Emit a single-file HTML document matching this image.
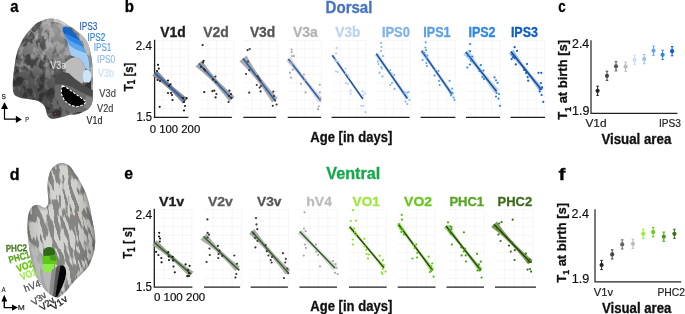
<!DOCTYPE html>
<html><head><meta charset="utf-8"><style>
html,body{margin:0;padding:0;background:#fff;}
svg{display:block;will-change:transform;}
text{font-family:"Liberation Sans", sans-serif;}
</style></head><body>
<svg width="685" height="314" viewBox="0 0 685 314">
<rect width="685" height="314" fill="#fff"/>
<defs>
<filter id="texD" x="0" y="0" width="100%" height="100%" filterUnits="userSpaceOnUse">
 <feTurbulence type="fractalNoise" baseFrequency="0.13 0.09" numOctaves="3" seed="7" result="n"/>
 <feColorMatrix in="n" type="matrix" values="0 0 0 0 0  0 0 0 0 0  0 0 0 0 0  1 0 0 0 0"/>
 <feComponentTransfer><feFuncA type="linear" slope="9" intercept="-4.3"/></feComponentTransfer>
</filter>
<filter id="texL" x="0" y="0" width="100%" height="100%" filterUnits="userSpaceOnUse">
 <feTurbulence type="fractalNoise" baseFrequency="0.12 0.1" numOctaves="3" seed="21" result="n"/>
 <feColorMatrix in="n" type="matrix" values="0 0 0 0 1  0 0 0 0 1  0 0 0 0 1  1 0 0 0 0"/>
 <feComponentTransfer><feFuncA type="linear" slope="9" intercept="-4.6"/></feComponentTransfer>
</filter>
<filter id="texS" x="0" y="0" width="100%" height="100%" filterUnits="userSpaceOnUse">
 <feTurbulence type="fractalNoise" baseFrequency="0.28 0.06" numOctaves="2" seed="3" result="n"/>
 <feColorMatrix in="n" type="matrix" values="0 0 0 0 0  0 0 0 0 0  0 0 0 0 0  1 0 0 0 0"/>
 <feComponentTransfer><feFuncA type="linear" slope="12" intercept="-5.5"/></feComponentTransfer>
</filter>
<filter id="soft" x="-20%" y="-20%" width="140%" height="140%"><feGaussianBlur stdDeviation="4"/></filter>
<filter id="soft1" x="-20%" y="-20%" width="140%" height="140%"><feGaussianBlur stdDeviation="1.2"/></filter>
<radialGradient id="gA" gradientUnits="userSpaceOnUse" cx="58" cy="32" r="62" fx="60" fy="28">
 <stop offset="0" stop-color="#a6a6a6"/><stop offset="0.35" stop-color="#8c8c8c"/><stop offset="0.7" stop-color="#707070"/><stop offset="1" stop-color="#585858"/>
</radialGradient>
<linearGradient id="gD" x1="0" y1="0" x2="1" y2="0">
 <stop offset="0" stop-color="#b4b4b2"/><stop offset="0.3" stop-color="#d4d4d0"/><stop offset="0.7" stop-color="#d0d0cc"/><stop offset="1" stop-color="#a0a09e"/>
</linearGradient>
<clipPath id="cA"><path d="M49.30 18.50C50.88 18.35 52.50 18.43 54.10 18.70C55.70 18.97 57.30 19.47 58.90 20.10C60.50 20.73 62.12 21.62 63.70 22.50C65.28 23.38 66.82 24.45 68.40 25.40C69.98 26.35 71.60 27.10 73.20 28.20C74.80 29.30 76.40 30.72 78.00 32.00C79.60 33.28 81.43 34.48 82.80 35.90C84.17 37.32 85.27 39.02 86.20 40.50C87.13 41.98 87.67 42.73 88.40 44.80C89.13 46.87 89.95 49.65 90.60 52.90C91.25 56.15 91.92 60.02 92.30 64.30C92.68 68.58 92.80 74.32 92.90 78.60C93.00 82.88 92.95 86.67 92.90 90.00C92.85 93.33 92.83 96.18 92.60 98.60C92.37 101.02 92.27 102.73 91.50 104.50C90.73 106.27 89.30 107.98 88.00 109.20C86.70 110.42 85.13 111.08 83.70 111.80C82.27 112.52 80.83 113.03 79.40 113.50C77.97 113.97 76.53 114.42 75.10 114.60C73.67 114.78 72.23 114.42 70.80 114.60C69.37 114.78 67.93 115.30 66.50 115.70C65.07 116.10 63.63 116.60 62.20 117.00C60.77 117.40 59.33 117.82 57.90 118.10C56.47 118.38 54.88 118.68 53.60 118.70C52.32 118.72 51.20 118.70 50.20 118.20C49.20 117.70 48.25 116.82 47.60 115.70C46.95 114.58 46.72 112.92 46.30 111.50C45.88 110.08 45.90 108.63 45.10 107.20C44.30 105.77 43.28 104.10 41.50 102.90C39.72 101.70 37.27 100.72 34.40 100.00C31.53 99.28 27.17 99.18 24.30 98.60C21.43 98.02 18.98 97.45 17.20 96.50C15.42 95.55 14.33 94.82 13.60 92.90C12.87 90.98 12.83 87.98 12.80 85.00C12.77 82.02 13.02 78.83 13.40 75.00C13.78 71.17 14.50 65.80 15.10 62.00C15.70 58.20 16.25 54.90 17.00 52.20C17.75 49.50 18.65 47.92 19.60 45.80C20.55 43.68 21.65 41.40 22.70 39.50C23.75 37.60 24.62 36.10 25.90 34.40C27.18 32.70 28.80 31.00 30.40 29.30C32.00 27.60 33.90 25.48 35.50 24.20C37.10 22.92 38.48 22.37 40.00 21.60C41.52 20.83 43.05 20.12 44.60 19.60C46.15 19.08 47.72 18.65 49.30 18.50Z"/></clipPath>
<clipPath id="cD"><path d="M62.00 163.10C63.78 163.15 65.92 163.78 67.50 164.60C69.08 165.42 70.28 166.55 71.50 168.00C72.72 169.45 73.67 171.58 74.80 173.30C75.93 175.02 77.25 176.60 78.30 178.30C79.35 180.00 80.10 181.58 81.10 183.50C82.10 185.42 83.35 187.68 84.30 189.80C85.25 191.92 86.05 194.08 86.80 196.20C87.55 198.32 88.22 200.37 88.80 202.50C89.38 204.63 89.67 205.80 90.30 209.00C90.93 212.20 91.93 218.20 92.60 221.70C93.27 225.20 93.87 227.28 94.30 230.00C94.73 232.72 95.08 235.50 95.20 238.00C95.32 240.50 95.23 242.52 95.00 245.00C94.77 247.48 94.38 250.48 93.80 252.90C93.22 255.32 92.33 257.37 91.50 259.50C90.67 261.63 89.85 263.90 88.80 265.70C87.75 267.50 86.48 268.82 85.20 270.30C83.92 271.78 83.05 272.62 81.10 274.60C79.15 276.58 75.83 279.65 73.50 282.20C71.17 284.75 69.02 287.77 67.10 289.90C65.18 292.03 63.43 293.78 62.00 295.00C60.57 296.22 59.55 296.77 58.50 297.20C57.45 297.63 56.78 297.88 55.70 297.60C54.62 297.32 53.28 296.37 52.00 295.50C50.72 294.63 49.25 293.48 48.00 292.40C46.75 291.32 45.55 290.27 44.50 289.00C43.45 287.73 42.73 286.30 41.70 284.80C40.67 283.30 39.37 281.70 38.30 280.00C37.23 278.30 36.15 276.60 35.30 274.60C34.45 272.60 33.83 270.33 33.20 268.00C32.57 265.67 32.03 263.10 31.50 260.60C30.97 258.10 30.43 255.55 30.00 253.00C29.57 250.45 29.25 247.88 28.90 245.30C28.55 242.72 28.13 240.05 27.90 237.50C27.67 234.95 27.55 232.63 27.50 230.00C27.45 227.37 27.45 224.28 27.60 221.70C27.75 219.12 27.97 216.53 28.40 214.50C28.83 212.47 29.43 210.92 30.20 209.50C30.97 208.08 31.95 206.80 33.00 206.00C34.05 205.20 35.33 204.77 36.50 204.70C37.67 204.63 38.82 205.12 40.00 205.60C41.18 206.08 42.50 207.40 43.60 207.60C44.70 207.80 45.82 207.57 46.60 206.80C47.38 206.03 48.02 204.47 48.30 203.00C48.58 201.53 48.42 200.00 48.30 198.00C48.18 196.00 47.73 193.42 47.60 191.00C47.47 188.58 47.37 185.75 47.50 183.50C47.63 181.25 47.98 179.42 48.40 177.50C48.82 175.58 49.27 173.67 50.00 172.00C50.73 170.33 51.67 168.78 52.80 167.50C53.93 166.22 55.27 165.03 56.80 164.30C58.33 163.57 60.22 163.05 62.00 163.10Z"/></clipPath>
</defs>
<g clip-path="url(#cA)">
<rect x="5" y="10" width="95" height="115" fill="url(#gA)"/>
<rect x="5" y="10" width="95" height="115" filter="url(#texD)" opacity="0.25"/>
<rect x="5" y="10" width="95" height="115" filter="url(#texL)" opacity="0.22"/>
<ellipse cx="54" cy="30" rx="14" ry="12" fill="#b4b4b4" opacity="0.45" filter="url(#soft)"/>
<path d="M5 74 C25 74 45 72 62 70 L70 125 L5 125Z" fill="#3c3c3c" opacity="0.3" filter="url(#soft)"/>
<path d="M60 20 C70 22 76 26 79.5 30 L79.5 39.5 L84.2 48.2 L86.3 53 L88.5 58 L89.6 66 L91.2 75 L91 85 L92 100 L97 100 L97 15 Z" fill="#bababa" opacity="0.95"/>
<rect x="75" y="15" width="25" height="100" filter="url(#texD)" opacity="0.22" clip-path="url(#cA)"/>
<path d="M54 17 C66 18 76 23 83 31 L86 36 C80 31 73 27.5 66 26 C62 24 58 22.5 54 21.5Z" fill="#d4d4d4" opacity="0.85"/>
<path d="M52 24 C57 22 61 23 63 26 L64 35 L67 45 L70 53 L66 60 L58 56 L53 45 L50 33Z" fill="#a8a8a8" opacity="0.55" filter="url(#soft1)"/>
<path d="M62.7 27.5 L65.9 26.4 L70.7 29.1 L75.5 33.9 L79.5 39.5 L79.5 40.6 L73.9 37.9 L67.5 34.7 L64.3 33.9 L62.7 31.5Z" fill="#1565c8"/>
<path d="M62.9 31.4 L64.3 33.9 L67.5 34.7 L73.9 37.9 L79.5 40.6 L79.5 39.5 L84.2 48.2 L81.8 46 L75.5 43.5 L69.1 40.3 L65.1 36.3Z" fill="#2a85e8"/>
<path d="M65 36.2 L69.1 40.3 L75.5 43.5 L81.8 46 L84.2 48.2 L86.3 53 L83.4 52.2 L77.1 49.8 L70.7 46.6 L67.5 42.7Z" fill="#5ca6f0"/>
<path d="M67.4 42.6 L70.7 46.6 L77.1 49.8 L83.4 52.2 L86.3 53 L88.5 58 L89.6 66 L89.6 70.7 L85 68 L83 63 L80 59 L76 57.2 L71 55.5 L69.5 50Z" fill="#a0ccf5"/>
<path d="M63 66 L66 61.5 L71 58.2 L76 57.2 L80 59 L83 63 L85 68 L85.5 75 L84 81 L82 84 L75 79 L68.9 73.6 L63.5 72Z" fill="#bcbcbc"/>
<path d="M87 69.8 C89.5 69.8 91.2 72 91.3 75.5 C91.4 79 90.6 82.6 88 82.6 L84 82.4 C82.8 79.5 82.6 75 83.5 72 C84.3 70.5 85.5 69.8 87 69.8Z" fill="#cce4fa"/>
<path d="M56 66 L66.5 68 L65.7 72 L62 75 L57 77Z" fill="#555555" opacity="0.6"/>
<path d="M55 76 L60 73.5 L63.5 72 L68.9 73.6 L75 79 L82 84 L89.6 88.5 L93.5 90.5 L93.5 97.5 L89 95.8 L81 92.2 L72 87.2 L64 84.6 L55 85Z" fill="#4a4a4a"/>
<path d="M55 84.5 L64 84.4 L72 87 L81 92 L89 95.6 L93.5 97.3 L93 104 L88 109 L80 112 L70 112 L60 107 L55 95Z" fill="#6a6a6a"/>
<path d="M86 96 L93.5 98 L93 105 L89 109 L84 108Z" fill="#8a8a8a" opacity="0.8"/>
<path d="M62.4 85.8 L66.5 87.6 L73.6 92.6 L80.8 97.6 L86.2 101.8 L83.5 104.8 L77 106.8 L70.5 105.2 L64.5 100.5 L61.6 94.5 L61.4 89.5Z" fill="#000" stroke="#fff" stroke-width="1.1" stroke-dasharray="2.6 1.6"/>
</g>
<circle cx="55.1" cy="113.7" r="0.7" fill="#c03030"/>
<g clip-path="url(#cD)">
<rect x="20" y="160" width="80" height="140" fill="url(#gD)"/>
<rect x="-10" y="130" width="140" height="200" filter="url(#texS)" opacity="0.36" transform="rotate(-12 60 230)"/>
<path d="M62.00 163.10C63.78 163.15 65.92 163.78 67.50 164.60C69.08 165.42 70.28 166.55 71.50 168.00C72.72 169.45 73.67 171.58 74.80 173.30C75.93 175.02 77.25 176.60 78.30 178.30C79.35 180.00 80.10 181.58 81.10 183.50C82.10 185.42 83.35 187.68 84.30 189.80C85.25 191.92 86.05 194.08 86.80 196.20C87.55 198.32 88.22 200.37 88.80 202.50C89.38 204.63 89.67 205.80 90.30 209.00C90.93 212.20 91.93 218.20 92.60 221.70C93.27 225.20 93.87 227.28 94.30 230.00C94.73 232.72 95.08 235.50 95.20 238.00C95.32 240.50 95.23 242.52 95.00 245.00C94.77 247.48 94.38 250.48 93.80 252.90C93.22 255.32 92.33 257.37 91.50 259.50C90.67 261.63 89.85 263.90 88.80 265.70C87.75 267.50 86.48 268.82 85.20 270.30C83.92 271.78 83.05 272.62 81.10 274.60C79.15 276.58 75.83 279.65 73.50 282.20C71.17 284.75 69.02 287.77 67.10 289.90C65.18 292.03 63.43 293.78 62.00 295.00C60.57 296.22 59.55 296.77 58.50 297.20C57.45 297.63 56.78 297.88 55.70 297.60C54.62 297.32 53.28 296.37 52.00 295.50C50.72 294.63 49.25 293.48 48.00 292.40C46.75 291.32 45.55 290.27 44.50 289.00C43.45 287.73 42.73 286.30 41.70 284.80C40.67 283.30 39.37 281.70 38.30 280.00C37.23 278.30 36.15 276.60 35.30 274.60C34.45 272.60 33.83 270.33 33.20 268.00C32.57 265.67 32.03 263.10 31.50 260.60C30.97 258.10 30.43 255.55 30.00 253.00C29.57 250.45 29.25 247.88 28.90 245.30C28.55 242.72 28.13 240.05 27.90 237.50C27.67 234.95 27.55 232.63 27.50 230.00C27.45 227.37 27.45 224.28 27.60 221.70C27.75 219.12 27.97 216.53 28.40 214.50C28.83 212.47 29.43 210.92 30.20 209.50C30.97 208.08 31.95 206.80 33.00 206.00C34.05 205.20 35.33 204.77 36.50 204.70C37.67 204.63 38.82 205.12 40.00 205.60C41.18 206.08 42.50 207.40 43.60 207.60C44.70 207.80 45.82 207.57 46.60 206.80C47.38 206.03 48.02 204.47 48.30 203.00C48.58 201.53 48.42 200.00 48.30 198.00C48.18 196.00 47.73 193.42 47.60 191.00C47.47 188.58 47.37 185.75 47.50 183.50C47.63 181.25 47.98 179.42 48.40 177.50C48.82 175.58 49.27 173.67 50.00 172.00C50.73 170.33 51.67 168.78 52.80 167.50C53.93 166.22 55.27 165.03 56.80 164.30C58.33 163.57 60.22 163.05 62.00 163.10Z" fill="none" stroke="#5a5a5a" stroke-width="3" opacity="0.45" filter="url(#soft1)"/>
<path d="M20 235 C30 240 40 250 45 262 L48 300 L20 300Z" fill="#b4b4b4" opacity="0.75"/>
<path d="M43.6 250.5 C44.5 248 47 246.8 49.5 247 C52.5 247.3 55 249.5 55.2 252.5 C55.3 254.5 54 256 52 256.5 L44 256 C43.2 254.5 43.2 252.5 43.6 250.5Z" fill="#2f6a12"/>
<path d="M42.8 256 L56.6 255.5 C57.2 258.5 57 262 56.4 264.5 L43 264.5 C42.5 261.5 42.5 258.5 42.8 256Z" fill="#5cc81a"/>
<path d="M49.5 255.8 L55.8 255.2 C57 257.5 56.8 259.5 56.4 260.8 L50.5 260.5Z" fill="#4a9a22"/>
<path d="M43 264 L54.5 264 C54 267.5 53.4 270.5 52.8 272.8 L43.6 272.8 C43.1 270 43 267 43 264Z" fill="#8cec48"/>
<path d="M42.6 272.5 L52.5 272.3 L50 294.5 L48.5 292 C46 287 43.5 280 42.6 272.5Z" fill="#b8b8b8"/>
<path d="M51.9 269.7 C53.4 268.6 55 267.6 56.5 267 L53 295.8 L49.2 294 C49.8 286 50.8 277 51.9 269.7Z" fill="#8c8c8c"/>
<path d="M56.3 267 C57.7 266.4 59.2 265.9 60.7 265.6 L55.2 297.3 L52.8 295.8Z" fill="#555555"/>
<path d="M60.4 265.7 C62 265.2 63.6 265.6 64.8 267 C65.8 268.5 66.2 270.8 66.1 273.4 C65.7 277 64.9 280 63.9 282.7 C62.8 285.8 61.6 288.5 60.2 291 C59.3 292.8 58.4 294.8 57.4 296.5 L55.1 297.2 C55.6 294 56 291 56.5 288.2 C57.6 281.5 58.7 275 59.8 269.7 Z" fill="#050505"/>
<path d="M66.1 273.4 C65.7 277 64.9 280 63.9 282.7 C62.8 285.8 61.6 288.5 60.2 291 L61.8 291.2 C63.3 288.5 64.6 285.5 65.6 282.5 C66.6 279.5 67.3 276.5 67.6 273.5Z" fill="#bdbdbd" opacity="0.8"/>
</g>
<circle cx="77.3" cy="214.2" r="0.6" fill="#d02020"/>
<text x="79.5" y="30.1" font-size="10" font-weight="normal" fill="#1f60c0" stroke="#1f60c0" stroke-width="0.15" textLength="17.80" lengthAdjust="spacingAndGlyphs">IPS3</text>
<text x="87.5" y="40.7" font-size="10" font-weight="normal" fill="#2b80e0" stroke="#2b80e0" stroke-width="0.15" textLength="17.80" lengthAdjust="spacingAndGlyphs">IPS2</text>
<text x="93.8" y="51.2" font-size="10" font-weight="normal" fill="#5a9ee8" stroke="#5a9ee8" stroke-width="0.15" textLength="17.50" lengthAdjust="spacingAndGlyphs">IPS1</text>
<text x="97.1" y="63.4" font-size="10" font-weight="normal" fill="#8cbbe9" stroke="#8cbbe9" stroke-width="0.15" textLength="18.10" lengthAdjust="spacingAndGlyphs">IPS0</text>
<text x="98.0" y="77.3" font-size="10" font-weight="normal" fill="#c6ddf3" stroke="#c6ddf3" stroke-width="0.15" textLength="15.90" lengthAdjust="spacingAndGlyphs">V3b</text>
<text x="50.3" y="69.1" font-size="10" font-weight="normal" fill="#dedede" stroke="#dedede" stroke-width="0.15" textLength="15.90" lengthAdjust="spacingAndGlyphs">V3a</text>
<text x="99.3" y="97.0" font-size="10" font-weight="normal" fill="#404040" stroke="#404040" stroke-width="0.15" textLength="16.50" lengthAdjust="spacingAndGlyphs">V3d</text>
<text x="97.1" y="112.1" font-size="10" font-weight="normal" fill="#383838" stroke="#383838" stroke-width="0.15" textLength="16.30" lengthAdjust="spacingAndGlyphs">V2d</text>
<text x="86.6" y="123.5" font-size="10" font-weight="normal" fill="#202020" stroke="#202020" stroke-width="0.15" textLength="15.70" lengthAdjust="spacingAndGlyphs">V1d</text>
<text x="1.6" y="98.9" font-size="7.2" fill="#222" stroke="#222" stroke-width="0.25" textLength="4.3" lengthAdjust="spacingAndGlyphs">S</text>
<text x="25.2" y="122.3" font-size="7.6" fill="#333" stroke="#333" stroke-width="0.2" textLength="3.8" lengthAdjust="spacingAndGlyphs">P</text>
<path d="M4.5 108.5V119.2H16" stroke="#000" stroke-width="1.2" fill="none"/>
<path d="M4.5 101.9L8 109L1.1 109Z" fill="#000"/>
<path d="M21.8 119.4L15.9 115.7L15.9 123.1Z" fill="#000"/>
<text transform="translate(5.90,252.00) rotate(-2.7)" font-size="10" font-weight="bold" fill="#4a7a20" stroke="#4a7a20" stroke-width="0.3" textLength="21.22" lengthAdjust="spacingAndGlyphs">PHC2</text>
<text transform="translate(9.80,263.60) rotate(-16.3)" font-size="10" font-weight="bold" fill="#5aa81e" stroke="#5aa81e" stroke-width="0.3" textLength="21.68" lengthAdjust="spacingAndGlyphs">PHC1</text>
<text transform="translate(18.00,272.30) rotate(-20.6)" font-size="10" font-weight="bold" fill="#62c400" stroke="#62c400" stroke-width="0.3" textLength="17.09" lengthAdjust="spacingAndGlyphs">VO2</text>
<text transform="translate(21.80,280.60) rotate(-21.4)" font-size="10" font-weight="bold" fill="#9eec4c" stroke="#9eec4c" stroke-width="0.3" textLength="16.97" lengthAdjust="spacingAndGlyphs">VO1</text>
<text transform="translate(25.60,292.20) rotate(-20.9)" font-size="10" font-weight="normal" fill="#585858" stroke="#585858" stroke-width="0.35" textLength="16.81" lengthAdjust="spacingAndGlyphs">hV4</text>
<text transform="translate(34.20,306.00) rotate(-36.2)" font-size="9.5" font-weight="normal" fill="#555" stroke="#555" stroke-width="0.35" textLength="16.10" lengthAdjust="spacingAndGlyphs">V3v</text>
<text transform="translate(42.40,311.20) rotate(-36.7)" font-size="9.5" font-weight="normal" fill="#333" stroke="#333" stroke-width="0.35" textLength="16.22" lengthAdjust="spacingAndGlyphs">V2v</text>
<text transform="translate(53.60,310.60) rotate(-34.9)" font-size="9.5" font-weight="normal" fill="#222" stroke="#222" stroke-width="0.35" textLength="17.81" lengthAdjust="spacingAndGlyphs">V1v</text>
<text x="1.7" y="292.4" font-size="7.5" fill="#222" stroke="#222" stroke-width="0.2" textLength="3.8" lengthAdjust="spacingAndGlyphs">A</text>
<text x="17.8" y="310.4" font-size="8" fill="#222" stroke="#222" stroke-width="0.2" textLength="7.0" lengthAdjust="spacingAndGlyphs">M</text>
<path d="M4.3 300V307.6H12.5" stroke="#000" stroke-width="1.4" fill="none"/>
<path d="M4.3 294.8L7.2 301.5L1.4 301.5Z" fill="#000"/>
<path d="M17.9 307.6L12 304.5L12 310.7Z" fill="#000"/>
<text x="10.30" y="11.90" font-size="17" font-weight="bold" fill="#000" stroke="#000" stroke-width="0.3" textLength="8.30" lengthAdjust="spacingAndGlyphs">a</text>
<text x="124.80" y="12.30" font-size="17" font-weight="bold" fill="#000" stroke="#000" stroke-width="0.3" textLength="9.20" lengthAdjust="spacingAndGlyphs">b</text>
<text x="558.20" y="12.40" font-size="17" font-weight="bold" fill="#000" stroke="#000" stroke-width="0.3" textLength="7.40" lengthAdjust="spacingAndGlyphs">c</text>
<text x="9.70" y="179.50" font-size="17" font-weight="bold" fill="#000" stroke="#000" stroke-width="0.3" textLength="9.80" lengthAdjust="spacingAndGlyphs">d</text>
<text x="124.20" y="179.20" font-size="17" font-weight="bold" fill="#000" stroke="#000" stroke-width="0.3" textLength="8.80" lengthAdjust="spacingAndGlyphs">e</text>
<text x="558.60" y="179.60" font-size="17" font-weight="bold" fill="#000" stroke="#000" stroke-width="0.3" textLength="6.90" lengthAdjust="spacingAndGlyphs">f</text>
<text x="325.60" y="12.80" font-size="16" font-weight="bold" fill="#4472c4" stroke="#4472c4" stroke-width="0.3" textLength="46.80" lengthAdjust="spacingAndGlyphs">Dorsal</text>
<text x="326.30" y="179.40" font-size="16" font-weight="bold" fill="#16a84a" stroke="#16a84a" stroke-width="0.3" textLength="54.00" lengthAdjust="spacingAndGlyphs">Ventral</text>
<text x="160.30" y="36.90" font-size="13.8" font-weight="bold" fill="#1e1e1e" stroke="#1e1e1e" stroke-width="0.3" textLength="25.50" lengthAdjust="spacingAndGlyphs">V1d</text>
<text x="203.20" y="36.90" font-size="13.8" font-weight="bold" fill="#5c5c5c" stroke="#5c5c5c" stroke-width="0.3" textLength="25.70" lengthAdjust="spacingAndGlyphs">V2d</text>
<text x="249.90" y="36.90" font-size="13.8" font-weight="bold" fill="#555555" stroke="#555555" stroke-width="0.3" textLength="25.40" lengthAdjust="spacingAndGlyphs">V3d</text>
<text x="293.00" y="36.90" font-size="13.8" font-weight="bold" fill="#b4b4b4" stroke="#b4b4b4" stroke-width="0.3" textLength="24.80" lengthAdjust="spacingAndGlyphs">V3a</text>
<text x="335.30" y="36.90" font-size="13.8" font-weight="bold" fill="#bcd4ee" stroke="#bcd4ee" stroke-width="0.3" textLength="25.00" lengthAdjust="spacingAndGlyphs">V3b</text>
<text x="381.90" y="36.90" font-size="13.8" font-weight="bold" fill="#7fb2ea" stroke="#7fb2ea" stroke-width="0.3" textLength="27.90" lengthAdjust="spacingAndGlyphs">IPS0</text>
<text x="423.30" y="36.90" font-size="13.8" font-weight="bold" fill="#5a9ee8" stroke="#5a9ee8" stroke-width="0.3" textLength="27.30" lengthAdjust="spacingAndGlyphs">IPS1</text>
<text x="468.40" y="36.90" font-size="13.8" font-weight="bold" fill="#2f86e6" stroke="#2f86e6" stroke-width="0.3" textLength="27.20" lengthAdjust="spacingAndGlyphs">IPS2</text>
<text x="510.90" y="36.90" font-size="13.8" font-weight="bold" fill="#0b5cc6" stroke="#0b5cc6" stroke-width="0.3" textLength="27.10" lengthAdjust="spacingAndGlyphs">IPS3</text>
<text x="158.90" y="206.10" font-size="13.6" font-weight="bold" fill="#1e1e1e" stroke="#1e1e1e" stroke-width="0.3" textLength="25.40" lengthAdjust="spacingAndGlyphs">V1v</text>
<text x="207.90" y="206.10" font-size="13.6" font-weight="bold" fill="#5c5c5c" stroke="#5c5c5c" stroke-width="0.3" textLength="24.90" lengthAdjust="spacingAndGlyphs">V2v</text>
<text x="257.00" y="206.10" font-size="13.6" font-weight="bold" fill="#555555" stroke="#555555" stroke-width="0.3" textLength="24.40" lengthAdjust="spacingAndGlyphs">V3v</text>
<text x="306.30" y="206.10" font-size="13.6" font-weight="bold" fill="#bbbbbb" stroke="#bbbbbb" stroke-width="0.3" textLength="25.70" lengthAdjust="spacingAndGlyphs">hV4</text>
<text x="352.60" y="206.10" font-size="13.6" font-weight="bold" fill="#99e83a" stroke="#99e83a" stroke-width="0.3" textLength="27.20" lengthAdjust="spacingAndGlyphs">VO1</text>
<text x="404.10" y="206.10" font-size="13.6" font-weight="bold" fill="#66c61a" stroke="#66c61a" stroke-width="0.3" textLength="27.90" lengthAdjust="spacingAndGlyphs">VO2</text>
<text x="449.40" y="206.10" font-size="13.6" font-weight="bold" fill="#55a620" stroke="#55a620" stroke-width="0.3" textLength="34.70" lengthAdjust="spacingAndGlyphs">PHC1</text>
<text x="497.60" y="206.10" font-size="13.6" font-weight="bold" fill="#3e6b1c" stroke="#3e6b1c" stroke-width="0.3" textLength="34.60" lengthAdjust="spacingAndGlyphs">PHC2</text>
<path d="M163.00 40.50V117.00M171.50 40.50V117.00M180.00 40.50V117.00M188.50 40.50V117.00M154.50 40.50H188.50M154.50 49.00H188.50M154.50 57.50H188.50M154.50 66.00H188.50M154.50 74.50H188.50M154.50 83.00H188.50M154.50 91.50H188.50M154.50 100.00H188.50M154.50 108.50H188.50" stroke="#f0f0f0" stroke-width="0.6" fill="none"/>
<path d="M208.00 40.50V117.00M216.50 40.50V117.00M225.00 40.50V117.00M233.50 40.50V117.00M199.50 40.50H233.50M199.50 49.00H233.50M199.50 57.50H233.50M199.50 66.00H233.50M199.50 74.50H233.50M199.50 83.00H233.50M199.50 91.50H233.50M199.50 100.00H233.50M199.50 108.50H233.50" stroke="#f0f0f0" stroke-width="0.6" fill="none"/>
<path d="M252.10 40.50V117.00M260.60 40.50V117.00M269.10 40.50V117.00M277.60 40.50V117.00M243.60 40.50H277.60M243.60 49.00H277.60M243.60 57.50H277.60M243.60 66.00H277.60M243.60 74.50H277.60M243.60 83.00H277.60M243.60 91.50H277.60M243.60 100.00H277.60M243.60 108.50H277.60" stroke="#f0f0f0" stroke-width="0.6" fill="none"/>
<path d="M296.30 40.50V117.00M304.80 40.50V117.00M313.30 40.50V117.00M321.80 40.50V117.00M287.80 40.50H321.80M287.80 49.00H321.80M287.80 57.50H321.80M287.80 66.00H321.80M287.80 74.50H321.80M287.80 83.00H321.80M287.80 91.50H321.80M287.80 100.00H321.80M287.80 108.50H321.80" stroke="#f0f0f0" stroke-width="0.6" fill="none"/>
<path d="M340.50 40.50V117.00M349.00 40.50V117.00M357.50 40.50V117.00M366.00 40.50V117.00M332.00 40.50H366.00M332.00 49.00H366.00M332.00 57.50H366.00M332.00 66.00H366.00M332.00 74.50H366.00M332.00 83.00H366.00M332.00 91.50H366.00M332.00 100.00H366.00M332.00 108.50H366.00" stroke="#f0f0f0" stroke-width="0.6" fill="none"/>
<path d="M385.00 40.50V117.00M393.50 40.50V117.00M402.00 40.50V117.00M410.50 40.50V117.00M376.50 40.50H410.50M376.50 49.00H410.50M376.50 57.50H410.50M376.50 66.00H410.50M376.50 74.50H410.50M376.50 83.00H410.50M376.50 91.50H410.50M376.50 100.00H410.50M376.50 108.50H410.50" stroke="#f0f0f0" stroke-width="0.6" fill="none"/>
<path d="M429.70 40.50V117.00M438.20 40.50V117.00M446.70 40.50V117.00M455.20 40.50V117.00M421.20 40.50H455.20M421.20 49.00H455.20M421.20 57.50H455.20M421.20 66.00H455.20M421.20 74.50H455.20M421.20 83.00H455.20M421.20 91.50H455.20M421.20 100.00H455.20M421.20 108.50H455.20" stroke="#f0f0f0" stroke-width="0.6" fill="none"/>
<path d="M474.70 40.50V117.00M483.20 40.50V117.00M491.70 40.50V117.00M500.20 40.50V117.00M466.20 40.50H500.20M466.20 49.00H500.20M466.20 57.50H500.20M466.20 66.00H500.20M466.20 74.50H500.20M466.20 83.00H500.20M466.20 91.50H500.20M466.20 100.00H500.20M466.20 108.50H500.20" stroke="#f0f0f0" stroke-width="0.6" fill="none"/>
<path d="M519.20 40.50V117.00M527.70 40.50V117.00M536.20 40.50V117.00M544.70 40.50V117.00M510.70 40.50H544.70M510.70 49.00H544.70M510.70 57.50H544.70M510.70 66.00H544.70M510.70 74.50H544.70M510.70 83.00H544.70M510.70 91.50H544.70M510.70 100.00H544.70M510.70 108.50H544.70" stroke="#f0f0f0" stroke-width="0.6" fill="none"/>
<path d="M163.78 209.30V287.00M173.15 209.30V287.00M182.53 209.30V287.00M191.90 209.30V287.00M154.40 209.30H191.90M154.40 217.93H191.90M154.40 226.57H191.90M154.40 235.20H191.90M154.40 243.83H191.90M154.40 252.47H191.90M154.40 261.10H191.90M154.40 269.73H191.90M154.40 278.37H191.90" stroke="#f0f0f0" stroke-width="0.6" fill="none"/>
<path d="M213.38 209.30V287.00M222.75 209.30V287.00M232.12 209.30V287.00M241.50 209.30V287.00M204.00 209.30H241.50M204.00 217.93H241.50M204.00 226.57H241.50M204.00 235.20H241.50M204.00 243.83H241.50M204.00 252.47H241.50M204.00 261.10H241.50M204.00 269.73H241.50M204.00 278.37H241.50" stroke="#f0f0f0" stroke-width="0.6" fill="none"/>
<path d="M260.27 209.30V287.00M269.65 209.30V287.00M279.02 209.30V287.00M288.40 209.30V287.00M250.90 209.30H288.40M250.90 217.93H288.40M250.90 226.57H288.40M250.90 235.20H288.40M250.90 243.83H288.40M250.90 252.47H288.40M250.90 261.10H288.40M250.90 269.73H288.40M250.90 278.37H288.40" stroke="#f0f0f0" stroke-width="0.6" fill="none"/>
<path d="M309.07 209.30V287.00M318.45 209.30V287.00M327.82 209.30V287.00M337.20 209.30V287.00M299.70 209.30H337.20M299.70 217.93H337.20M299.70 226.57H337.20M299.70 235.20H337.20M299.70 243.83H337.20M299.70 252.47H337.20M299.70 261.10H337.20M299.70 269.73H337.20M299.70 278.37H337.20" stroke="#f0f0f0" stroke-width="0.6" fill="none"/>
<path d="M358.38 209.30V287.00M367.75 209.30V287.00M377.12 209.30V287.00M386.50 209.30V287.00M349.00 209.30H386.50M349.00 217.93H386.50M349.00 226.57H386.50M349.00 235.20H386.50M349.00 243.83H386.50M349.00 252.47H386.50M349.00 261.10H386.50M349.00 269.73H386.50M349.00 278.37H386.50" stroke="#f0f0f0" stroke-width="0.6" fill="none"/>
<path d="M407.18 209.30V287.00M416.55 209.30V287.00M425.93 209.30V287.00M435.30 209.30V287.00M397.80 209.30H435.30M397.80 217.93H435.30M397.80 226.57H435.30M397.80 235.20H435.30M397.80 243.83H435.30M397.80 252.47H435.30M397.80 261.10H435.30M397.80 269.73H435.30M397.80 278.37H435.30" stroke="#f0f0f0" stroke-width="0.6" fill="none"/>
<path d="M455.98 209.30V287.00M465.35 209.30V287.00M474.73 209.30V287.00M484.10 209.30V287.00M446.60 209.30H484.10M446.60 217.93H484.10M446.60 226.57H484.10M446.60 235.20H484.10M446.60 243.83H484.10M446.60 252.47H484.10M446.60 261.10H484.10M446.60 269.73H484.10M446.60 278.37H484.10" stroke="#f0f0f0" stroke-width="0.6" fill="none"/>
<path d="M504.68 209.30V287.00M514.05 209.30V287.00M523.42 209.30V287.00M532.80 209.30V287.00M495.30 209.30H532.80M495.30 217.93H532.80M495.30 226.57H532.80M495.30 235.20H532.80M495.30 243.83H532.80M495.30 252.47H532.80M495.30 261.10H532.80M495.30 269.73H532.80M495.30 278.37H532.80" stroke="#f0f0f0" stroke-width="0.6" fill="none"/>
<path d="M153.80 117.3H188.40M199.30 117.3H231.80M243.30 117.3H276.20M287.70 117.3H321.10M331.60 117.3H409.60M420.60 117.3H455.40M466.00 117.3H500.10M510.50 117.3H545.00M153.80 287.2H192.40M204.00 287.2H240.10M250.60 287.2H287.90M299.40 287.2H337.00M348.90 287.2H386.70M397.70 287.2H435.50M446.50 287.2H484.00M495.00 287.2H536.00M154.6 39.8V117.9M154.3 208.8V287.8" stroke="#1e1e1e" stroke-width="1.3" fill="none"/>
<text x="135.80" y="50.30" font-size="12" font-weight="normal" fill="#111" stroke="#111" stroke-width="0.2" textLength="16.00" lengthAdjust="spacingAndGlyphs">2.4</text>
<text x="136.50" y="120.50" font-size="12.2" font-weight="normal" fill="#111" stroke="#111" stroke-width="0.2" textLength="15.50" lengthAdjust="spacingAndGlyphs">1.5</text>
<text x="149.80" y="133.00" font-size="11.3" font-weight="normal" fill="#111" stroke="#111" stroke-width="0.2" textLength="50.40" lengthAdjust="spacingAndGlyphs">0 100 200</text>
<text x="135.60" y="218.80" font-size="12" font-weight="normal" fill="#111" stroke="#111" stroke-width="0.2" textLength="16.60" lengthAdjust="spacingAndGlyphs">2.4</text>
<text x="136.00" y="290.80" font-size="12.2" font-weight="normal" fill="#111" stroke="#111" stroke-width="0.2" textLength="16.00" lengthAdjust="spacingAndGlyphs">1.5</text>
<text x="153.90" y="301.20" font-size="11.3" font-weight="normal" fill="#111" stroke="#111" stroke-width="0.2" textLength="51.40" lengthAdjust="spacingAndGlyphs">0 100 200</text>
<text x="310.30" y="141.70" font-size="14.4" font-weight="bold" fill="#111" stroke="#111" stroke-width="0.3" textLength="82.00" lengthAdjust="spacingAndGlyphs">Age [in days]</text>
<text x="310.30" y="310.50" font-size="14.4" font-weight="bold" fill="#111" stroke="#111" stroke-width="0.3" textLength="82.00" lengthAdjust="spacingAndGlyphs">Age [in days]</text>
<text transform="translate(132.50,77.00) rotate(-90)" text-anchor="middle" font-size="13" font-weight="bold" fill="#111" stroke="#111" stroke-width="0.3" textLength="28.60" lengthAdjust="spacingAndGlyphs">T<tspan font-size="10" dy="2.6">1</tspan><tspan dy="-2.6"> [s]</tspan></text>
<text transform="translate(132.40,243.00) rotate(-90)" text-anchor="middle" font-size="13.5" font-weight="bold" fill="#111" stroke="#111" stroke-width="0.3" textLength="31.60" lengthAdjust="spacingAndGlyphs">T<tspan font-size="10" dy="2.6">1</tspan><tspan dy="-2.6"> [ s]</tspan></text>
<polygon points="152.37,75.65 155.73,78.11 159.03,80.64 162.25,83.25 165.41,85.93 168.49,88.69 171.51,91.53 174.45,94.45 177.33,97.44 180.13,100.51 182.87,103.65 187.73,98.35 184.37,95.89 181.07,93.36 177.85,90.75 174.69,88.07 171.61,85.31 168.59,82.47 165.65,79.55 162.77,76.56 159.97,73.49 157.23,70.35" fill="#8c8c8c" opacity="1.0"/>
<line x1="154.8" y1="73" x2="185.3" y2="101" stroke="#2f5fae" stroke-width="1.7"/>
<g fill="#1a1a1a"><circle cx="158" cy="64.8" r="1.1"/><circle cx="158.8" cy="68.6" r="1.1"/><circle cx="157" cy="71" r="1.1"/><circle cx="157.5" cy="80" r="1.1"/><circle cx="160" cy="81" r="1.1"/><circle cx="168" cy="80.5" r="1.1"/><circle cx="170.5" cy="84.3" r="1.1"/><circle cx="169" cy="86" r="1.1"/><circle cx="168" cy="93" r="1.1"/><circle cx="171" cy="93" r="1.1"/><circle cx="172" cy="95" r="1.1"/><circle cx="172.5" cy="100" r="1.1"/><circle cx="159.7" cy="106.8" r="1.1"/><circle cx="183" cy="98" r="1.1"/><circle cx="186.6" cy="98.2" r="1.1"/><circle cx="184" cy="102" r="1.1"/><circle cx="185" cy="106" r="1.1"/><circle cx="184" cy="110.5" r="1.1"/></g>
<polygon points="195.43,66.53 199.35,69.53 203.13,72.65 206.78,75.90 210.29,79.27 213.67,82.77 216.94,86.36 220.13,90.03 223.25,93.76 226.30,97.57 229.26,101.45 234.54,96.55 230.88,93.31 227.31,90.00 223.81,86.61 220.38,83.16 217.03,79.63 213.79,76.01 210.68,72.26 207.71,68.39 204.87,64.39 202.17,60.27" fill="#a4a4a4" opacity="1.0"/>
<line x1="198.8" y1="63.4" x2="231.9" y2="99" stroke="#2f5fae" stroke-width="1.7"/>
<g fill="#2a2a2a"><circle cx="202.6" cy="45.1" r="1.1"/><circle cx="203.6" cy="60.9" r="1.1"/><circle cx="203" cy="62.5" r="1.1"/><circle cx="201" cy="67" r="1.1"/><circle cx="204" cy="69" r="1.1"/><circle cx="205" cy="70.5" r="1.1"/><circle cx="215.4" cy="76.5" r="1.1"/><circle cx="213" cy="79.5" r="1.1"/><circle cx="216" cy="82" r="1.1"/><circle cx="204.2" cy="92.2" r="1.1"/><circle cx="212.4" cy="91.2" r="1.1"/><circle cx="214.3" cy="90.7" r="1.1"/><circle cx="216.4" cy="94" r="1.1"/><circle cx="215.6" cy="97.4" r="1.1"/><circle cx="229.4" cy="90.7" r="1.1"/><circle cx="231" cy="94" r="1.1"/><circle cx="229" cy="96" r="1.1"/><circle cx="231.6" cy="97.8" r="1.1"/><circle cx="228.5" cy="102" r="1.1"/></g>
<polygon points="239.34,61.19 243.16,64.90 246.84,68.71 250.38,72.64 253.78,76.67 257.04,80.80 260.19,85.02 263.27,89.30 266.27,93.64 269.19,98.03 272.04,102.48 277.76,98.12 274.23,94.19 270.77,90.20 267.39,86.16 264.09,82.06 260.86,77.90 257.74,73.65 254.76,69.30 251.92,64.85 249.22,60.28 246.66,55.61" fill="#acacac" opacity="1.0"/>
<line x1="243" y1="58.4" x2="274.9" y2="100.3" stroke="#2f5fae" stroke-width="1.7"/>
<g fill="#3a3a3a"><circle cx="247.6" cy="50.2" r="1.1"/><circle cx="249.7" cy="49" r="1.1"/><circle cx="248" cy="61.6" r="1.1"/><circle cx="246" cy="74" r="1.1"/><circle cx="249.2" cy="70.1" r="1.1"/><circle cx="257.8" cy="76.4" r="1.1"/><circle cx="259" cy="78.5" r="1.1"/><circle cx="260.4" cy="80.6" r="1.1"/><circle cx="256.8" cy="85" r="1.1"/><circle cx="259.7" cy="87.6" r="1.1"/><circle cx="261" cy="86" r="1.1"/><circle cx="260.6" cy="91.4" r="1.1"/><circle cx="249.2" cy="92.7" r="1.1"/><circle cx="273.3" cy="91.7" r="1.1"/><circle cx="274" cy="96" r="1.1"/><circle cx="275.1" cy="100.6" r="1.1"/><circle cx="272.8" cy="105.8" r="1.1"/><circle cx="276.6" cy="104.5" r="1.1"/></g>
<polygon points="285.93,60.74 289.48,64.61 292.96,68.55 296.36,72.54 299.68,76.59 302.93,80.70 306.10,84.87 309.20,89.10 312.22,93.39 315.16,97.73 318.03,102.14 322.77,98.46 319.22,94.59 315.74,90.65 312.34,86.66 309.02,82.61 305.77,78.50 302.60,74.33 299.50,70.10 296.48,65.81 293.54,61.47 290.67,57.06" fill="#dcdcdc" opacity="1.0"/>
<line x1="288.3" y1="58.9" x2="320.4" y2="100.3" stroke="#2f5fae" stroke-width="1.7"/>
<g fill="#aaaaaa"><circle cx="291.6" cy="49.5" r="1.1"/><circle cx="291.6" cy="52" r="1.1"/><circle cx="292" cy="56" r="1.1"/><circle cx="294" cy="56" r="1.1"/><circle cx="290" cy="62.5" r="1.1"/><circle cx="291.8" cy="64" r="1.1"/><circle cx="292.8" cy="69.7" r="1.1"/><circle cx="290" cy="72.7" r="1.1"/><circle cx="291" cy="77.7" r="1.1"/><circle cx="304" cy="74.5" r="1.1"/><circle cx="301" cy="83.8" r="1.1"/><circle cx="305.3" cy="80" r="1.1"/><circle cx="305.5" cy="92.4" r="1.1"/><circle cx="319.8" cy="84.8" r="1.1"/><circle cx="319.8" cy="92.4" r="1.1"/><circle cx="320" cy="98" r="1.1"/><circle cx="320.3" cy="101" r="1.1"/><circle cx="318.7" cy="106.3" r="1.1"/><circle cx="318" cy="109.2" r="1.1"/></g>
<line x1="332.3" y1="55.3" x2="362.9" y2="99.1" stroke="#2a55a0" stroke-width="1.7"/>
<g fill="#b4d0ee"><circle cx="336.7" cy="48" r="1.1"/><circle cx="336" cy="53.3" r="1.1"/><circle cx="334.6" cy="59.8" r="1.1"/><circle cx="336.4" cy="61" r="1.1"/><circle cx="338.4" cy="62" r="1.1"/><circle cx="336" cy="71.5" r="1.1"/><circle cx="338" cy="72" r="1.1"/><circle cx="345.6" cy="68.6" r="1.1"/><circle cx="346" cy="73.5" r="1.1"/><circle cx="348" cy="75" r="1.1"/><circle cx="349.4" cy="77.7" r="1.1"/><circle cx="347.8" cy="83.8" r="1.1"/><circle cx="345.8" cy="83" r="1.1"/><circle cx="350.6" cy="90.6" r="1.1"/><circle cx="350.6" cy="93.5" r="1.1"/><circle cx="362.6" cy="91.2" r="1.1"/><circle cx="364.8" cy="93.5" r="1.1"/><circle cx="363" cy="95.7" r="1.1"/><circle cx="361.2" cy="105.8" r="1.1"/><circle cx="363.3" cy="105.8" r="1.1"/><circle cx="365.4" cy="112.2" r="1.1"/></g>
<polygon points="374.25,55.23 377.65,59.50 380.99,63.82 384.27,68.19 387.47,72.60 390.62,77.06 393.69,81.56 396.71,86.11 399.65,90.70 402.53,95.34 405.35,100.03 409.45,97.17 406.05,92.90 402.71,88.58 399.43,84.21 396.23,79.80 393.08,75.34 390.01,70.84 386.99,66.29 384.05,61.70 381.17,57.06 378.35,52.37" fill="#d6e6f6" opacity="1.0"/>
<line x1="376.3" y1="53.8" x2="407.4" y2="98.6" stroke="#2a55a0" stroke-width="1.7"/>
<g fill="#86b6ea"><circle cx="381" cy="42.8" r="1.1"/><circle cx="381.5" cy="47" r="1.1"/><circle cx="381" cy="51" r="1.1"/><circle cx="383" cy="56" r="1.1"/><circle cx="377.8" cy="61.5" r="1.1"/><circle cx="378.5" cy="64" r="1.1"/><circle cx="381.2" cy="67" r="1.1"/><circle cx="382" cy="68.5" r="1.1"/><circle cx="379.5" cy="72.7" r="1.1"/><circle cx="382.4" cy="76.4" r="1.1"/><circle cx="390.3" cy="70" r="1.1"/><circle cx="391.6" cy="73.5" r="1.1"/><circle cx="394.3" cy="74.8" r="1.1"/><circle cx="392" cy="82.8" r="1.1"/><circle cx="390.3" cy="85" r="1.1"/><circle cx="394.6" cy="88.8" r="1.1"/><circle cx="404.7" cy="92.7" r="1.1"/><circle cx="407.4" cy="92.7" r="1.1"/><circle cx="408.6" cy="92" r="1.1"/><circle cx="405.5" cy="101.6" r="1.1"/><circle cx="407.4" cy="104" r="1.1"/><circle cx="409.6" cy="100" r="1.1"/></g>
<polygon points="419.55,52.13 422.89,56.30 426.17,60.52 429.39,64.79 432.54,69.10 435.62,73.46 438.64,77.86 441.59,82.31 444.47,86.80 447.29,91.34 450.05,95.93 454.15,93.07 450.81,88.90 447.53,84.68 444.31,80.41 441.16,76.10 438.08,71.74 435.06,67.34 432.11,62.89 429.23,58.40 426.41,53.86 423.65,49.27" fill="#cfe2f6" opacity="1.0"/>
<line x1="421.6" y1="50.7" x2="452.1" y2="94.5" stroke="#2a58a8" stroke-width="1.7"/>
<g fill="#5aa0ea"><circle cx="425.7" cy="42.3" r="1.1"/><circle cx="425.4" cy="47.5" r="1.1"/><circle cx="426" cy="50.2" r="1.1"/><circle cx="424.4" cy="53" r="1.1"/><circle cx="427.4" cy="55.5" r="1.1"/><circle cx="426.5" cy="57.5" r="1.1"/><circle cx="422.6" cy="60" r="1.1"/><circle cx="426.4" cy="63" r="1.1"/><circle cx="427" cy="66" r="1.1"/><circle cx="435.3" cy="70" r="1.1"/><circle cx="438.4" cy="71" r="1.1"/><circle cx="434.5" cy="75.6" r="1.1"/><circle cx="439" cy="80.8" r="1.1"/><circle cx="439.6" cy="85" r="1.1"/><circle cx="449.6" cy="80.8" r="1.1"/><circle cx="452.3" cy="88.5" r="1.1"/><circle cx="452.6" cy="93" r="1.1"/><circle cx="451.1" cy="95.4" r="1.1"/><circle cx="453.6" cy="97.5" r="1.1"/><circle cx="454.5" cy="100" r="1.1"/></g>
<polygon points="463.04,54.16 466.60,57.72 470.06,61.37 473.41,65.10 476.65,68.91 479.78,72.81 482.82,76.78 485.79,80.81 488.68,84.89 491.50,89.04 494.24,93.25 498.96,89.55 495.54,85.88 492.20,82.15 488.93,78.35 485.74,74.50 482.62,70.59 479.59,66.61 476.67,62.54 473.86,58.39 471.16,54.16 468.56,49.84" fill="#b8d4f2" opacity="1.0"/>
<line x1="465.8" y1="52" x2="496.6" y2="91.4" stroke="#1f4f9c" stroke-width="1.7"/>
<g fill="#2d84e6"><circle cx="470.1" cy="44" r="1.1"/><circle cx="470.1" cy="51.2" r="1.1"/><circle cx="467.9" cy="55.5" r="1.1"/><circle cx="470.4" cy="57.3" r="1.1"/><circle cx="472.4" cy="56.5" r="1.1"/><circle cx="471.2" cy="60.6" r="1.1"/><circle cx="470" cy="64.5" r="1.1"/><circle cx="467.3" cy="67.5" r="1.1"/><circle cx="480.8" cy="65.2" r="1.1"/><circle cx="479.4" cy="71" r="1.1"/><circle cx="483.5" cy="70.5" r="1.1"/><circle cx="482.4" cy="77" r="1.1"/><circle cx="484" cy="79" r="1.1"/><circle cx="494.5" cy="77.4" r="1.1"/><circle cx="496" cy="80.3" r="1.1"/><circle cx="497.6" cy="82.8" r="1.1"/><circle cx="496.5" cy="93" r="1.1"/><circle cx="499" cy="94" r="1.1"/><circle cx="496" cy="96.5" r="1.1"/><circle cx="498.5" cy="98.7" r="1.1"/><circle cx="499.9" cy="105.8" r="1.1"/></g>
<polygon points="508.49,53.49 511.99,56.98 515.39,60.55 518.70,64.20 521.90,67.93 525.00,71.74 528.01,75.62 530.95,79.56 533.81,83.56 536.59,87.62 539.31,91.74 543.69,88.26 540.31,84.68 536.99,81.04 533.75,77.34 530.59,73.58 527.50,69.76 524.50,65.87 521.60,61.90 518.81,57.85 516.11,53.72 513.51,49.51" fill="#a4c8ee" opacity="1.0"/>
<line x1="511" y1="51.5" x2="541.5" y2="90" stroke="#1a4a98" stroke-width="1.7"/>
<g fill="#0a5cc8"><circle cx="514.6" cy="47.2" r="1.1"/><circle cx="517" cy="50.8" r="1.1"/><circle cx="512.2" cy="54.4" r="1.1"/><circle cx="511.7" cy="59.1" r="1.1"/><circle cx="514.6" cy="58" r="1.1"/><circle cx="513" cy="57" r="1.1"/><circle cx="515.8" cy="64.4" r="1.1"/><circle cx="527" cy="64" r="1.1"/><circle cx="524.1" cy="70" r="1.1"/><circle cx="526" cy="73" r="1.1"/><circle cx="527.7" cy="77.1" r="1.1"/><circle cx="528.2" cy="80.7" r="1.1"/><circle cx="538.5" cy="72.8" r="1.1"/><circle cx="541.3" cy="72.8" r="1.1"/><circle cx="540.9" cy="83.1" r="1.1"/><circle cx="540.4" cy="89" r="1.1"/><circle cx="542.1" cy="87.4" r="1.1"/><circle cx="539.7" cy="91.5" r="1.1"/><circle cx="541.6" cy="95" r="1.1"/><circle cx="543.3" cy="101.8" r="1.1"/></g>
<polygon points="152.28,245.18 156.33,247.94 160.29,250.79 164.18,253.73 167.98,256.77 171.71,259.89 175.37,263.10 178.96,266.39 182.48,269.76 185.93,273.20 189.31,276.73 193.49,271.87 189.49,269.06 185.56,266.16 181.70,263.19 177.91,260.14 174.19,257.01 170.54,253.79 166.96,250.49 163.47,247.09 160.05,243.60 156.72,240.02" fill="#a0a89a" opacity="1.0"/>
<line x1="154.5" y1="242.6" x2="191.4" y2="274.3" stroke="#33582a" stroke-width="1.4"/>
<g fill="#1a1a1a"><circle cx="159.2" cy="232.8" r="1.1"/><circle cx="159" cy="236.5" r="1.1"/><circle cx="160" cy="238.5" r="1.1"/><circle cx="159.8" cy="241.5" r="1.1"/><circle cx="156.1" cy="251.8" r="1.1"/><circle cx="158.4" cy="255" r="1.1"/><circle cx="161.6" cy="262.3" r="1.1"/><circle cx="161.3" cy="258" r="1.1"/><circle cx="168.2" cy="252.2" r="1.1"/><circle cx="168.8" cy="256.5" r="1.1"/><circle cx="169" cy="260" r="1.1"/><circle cx="172.7" cy="256.8" r="1.1"/><circle cx="173" cy="260.6" r="1.1"/><circle cx="173.5" cy="266.5" r="1.1"/><circle cx="174.8" cy="272.3" r="1.1"/><circle cx="185.6" cy="264.4" r="1.1"/><circle cx="189.6" cy="265.8" r="1.1"/><circle cx="188" cy="270" r="1.1"/><circle cx="189" cy="273" r="1.1"/><circle cx="187.3" cy="276.2" r="1.1"/><circle cx="189" cy="276" r="1.1"/></g>
<polygon points="200.38,239.80 204.43,242.38 208.34,245.12 212.11,247.99 215.75,251.01 219.25,254.18 222.64,257.46 225.96,260.81 229.21,264.24 232.39,267.75 235.50,271.33 239.90,266.67 236.15,263.77 232.47,260.80 228.86,257.75 225.32,254.62 221.85,251.42 218.49,248.11 215.27,244.65 212.18,241.04 209.23,237.30 206.42,233.40" fill="#aab0a6" opacity="1.0"/>
<line x1="203.4" y1="236.6" x2="237.7" y2="269" stroke="#33582a" stroke-width="1.4"/>
<g fill="#333333"><circle cx="207.4" cy="219.4" r="1.1"/><circle cx="207.6" cy="232.8" r="1.1"/><circle cx="209" cy="234.7" r="1.1"/><circle cx="207.5" cy="237.5" r="1.1"/><circle cx="209.5" cy="248.5" r="1.1"/><circle cx="209.8" cy="255" r="1.1"/><circle cx="206.6" cy="262" r="1.1"/><circle cx="217.9" cy="245.8" r="1.1"/><circle cx="219.5" cy="250.5" r="1.1"/><circle cx="218.5" cy="254" r="1.1"/><circle cx="218.3" cy="258" r="1.1"/><circle cx="222.2" cy="256" r="1.1"/><circle cx="234.3" cy="255.5" r="1.1"/><circle cx="237" cy="263.8" r="1.1"/><circle cx="238.5" cy="269.6" r="1.1"/><circle cx="236.3" cy="274" r="1.1"/><circle cx="235.4" cy="277.6" r="1.1"/></g>
<polygon points="249.00,233.68 253.08,237.38 257.05,241.18 260.93,245.07 264.70,249.04 268.37,253.11 271.96,257.25 275.46,261.46 278.88,265.75 282.23,270.10 285.50,274.52 290.30,270.28 286.33,266.48 282.44,262.61 278.62,258.68 274.88,254.67 271.23,250.59 267.66,246.44 264.19,242.19 260.83,237.86 257.56,233.44 254.40,228.92" fill="#aab0a6" opacity="1.0"/>
<line x1="251.7" y1="231.3" x2="287.9" y2="272.4" stroke="#33582a" stroke-width="1.4"/>
<g fill="#3a3a3a"><circle cx="256" cy="218.1" r="1.1"/><circle cx="256.5" cy="224.4" r="1.1"/><circle cx="257.3" cy="229.2" r="1.1"/><circle cx="253.6" cy="233.5" r="1.1"/><circle cx="255" cy="238" r="1.1"/><circle cx="257.5" cy="241" r="1.1"/><circle cx="255.4" cy="247.4" r="1.1"/><circle cx="265.7" cy="245" r="1.1"/><circle cx="266.8" cy="251.2" r="1.1"/><circle cx="268.4" cy="255.5" r="1.1"/><circle cx="272" cy="257" r="1.1"/><circle cx="270.7" cy="260" r="1.1"/><circle cx="271.6" cy="262.5" r="1.1"/><circle cx="282.9" cy="253.2" r="1.1"/><circle cx="285.8" cy="258.8" r="1.1"/><circle cx="285.2" cy="262.5" r="1.1"/><circle cx="287.4" cy="268.6" r="1.1"/><circle cx="288.2" cy="273.2" r="1.1"/><circle cx="284" cy="278" r="1.1"/></g>
<polygon points="297.54,233.58 301.39,236.95 305.17,240.39 308.89,243.89 312.53,247.46 316.10,251.10 319.61,254.80 323.05,258.57 326.41,262.41 329.71,266.31 332.94,270.28 337.26,266.12 333.41,262.75 329.63,259.31 325.91,255.81 322.27,252.24 318.70,248.60 315.19,244.90 311.75,241.13 308.39,237.29 305.09,233.39 301.86,229.42" fill="#dadada" opacity="1.0"/>
<line x1="299.7" y1="231.5" x2="335.1" y2="268.2" stroke="#33582a" stroke-width="1.4"/>
<g fill="#a8a8a8"><circle cx="304.5" cy="212.3" r="1.1"/><circle cx="304" cy="228.5" r="1.1"/><circle cx="305.6" cy="231.2" r="1.1"/><circle cx="305" cy="244.5" r="1.1"/><circle cx="306" cy="248" r="1.1"/><circle cx="303.7" cy="255.6" r="1.1"/><circle cx="316" cy="244.5" r="1.1"/><circle cx="316.2" cy="251.6" r="1.1"/><circle cx="318" cy="255" r="1.1"/><circle cx="320" cy="266.3" r="1.1"/><circle cx="333" cy="261" r="1.1"/><circle cx="335.6" cy="264" r="1.1"/><circle cx="336.5" cy="268" r="1.1"/><circle cx="335" cy="272.8" r="1.1"/><circle cx="337.6" cy="274" r="1.1"/></g>
<polygon points="347.86,228.34 351.59,232.18 355.26,236.07 358.86,240.02 362.39,244.02 365.85,248.09 369.25,252.20 372.58,256.38 375.84,260.61 379.03,264.90 382.16,269.24 385.84,266.16 382.11,262.32 378.44,258.43 374.84,254.48 371.31,250.48 367.85,246.41 364.45,242.30 361.12,238.12 357.86,233.89 354.67,229.60 351.54,225.26" fill="#c8f29a" opacity="1.0"/>
<line x1="349.7" y1="226.8" x2="384" y2="267.7" stroke="#263e18" stroke-width="1.4"/>
<g fill="#86e01e"><circle cx="353.2" cy="210.2" r="1.1"/><circle cx="350.8" cy="221" r="1.1"/><circle cx="356" cy="220.5" r="1.1"/><circle cx="354" cy="228.5" r="1.1"/><circle cx="355" cy="232" r="1.1"/><circle cx="355.8" cy="235" r="1.1"/><circle cx="352.7" cy="239.5" r="1.1"/><circle cx="353" cy="244.5" r="1.1"/><circle cx="364.3" cy="238.8" r="1.1"/><circle cx="364.6" cy="246.3" r="1.1"/><circle cx="366.3" cy="249.7" r="1.1"/><circle cx="366.6" cy="254" r="1.1"/><circle cx="369" cy="254.6" r="1.1"/><circle cx="368" cy="258.5" r="1.1"/><circle cx="379.6" cy="255.7" r="1.1"/><circle cx="383" cy="260.2" r="1.1"/><circle cx="383.7" cy="265" r="1.1"/><circle cx="383" cy="268.8" r="1.1"/><circle cx="381.6" cy="272.3" r="1.1"/><circle cx="385.5" cy="271.6" r="1.1"/><circle cx="382.5" cy="274" r="1.1"/></g>
<polygon points="396.37,225.63 400.12,230.01 403.80,234.43 407.41,238.91 410.94,243.44 414.41,248.03 417.80,252.66 421.13,257.35 424.38,262.09 427.56,266.89 430.67,271.73 434.53,268.87 430.78,264.49 427.10,260.07 423.49,255.59 419.96,251.06 416.49,246.47 413.10,241.84 409.77,237.15 406.52,232.41 403.34,227.61 400.23,222.77" fill="#a8e474" opacity="1.0"/>
<line x1="398.3" y1="224.2" x2="432.6" y2="270.3" stroke="#223c14" stroke-width="1.4"/>
<g fill="#58c012"><circle cx="401.7" cy="214.9" r="1.1"/><circle cx="402" cy="219.7" r="1.1"/><circle cx="398.8" cy="224.2" r="1.1"/><circle cx="400.6" cy="228.5" r="1.1"/><circle cx="403" cy="230" r="1.1"/><circle cx="403.8" cy="234.4" r="1.1"/><circle cx="401.2" cy="232" r="1.1"/><circle cx="413.3" cy="245" r="1.1"/><circle cx="414.6" cy="248" r="1.1"/><circle cx="416.3" cy="244.3" r="1.1"/><circle cx="412.5" cy="258.5" r="1.1"/><circle cx="417" cy="257.5" r="1.1"/><circle cx="417.2" cy="253" r="1.1"/><circle cx="428.6" cy="256.5" r="1.1"/><circle cx="432.3" cy="263.5" r="1.1"/><circle cx="431" cy="266.3" r="1.1"/><circle cx="429.9" cy="272" r="1.1"/><circle cx="431.3" cy="270.3" r="1.1"/><circle cx="433.6" cy="276.7" r="1.1"/><circle cx="431.3" cy="271" r="1.1"/></g>
<polygon points="443.96,227.61 447.80,231.75 451.57,235.95 455.25,240.22 458.86,244.56 462.38,248.95 465.82,253.41 469.20,257.92 472.51,262.49 475.74,267.11 478.91,271.78 482.69,268.82 478.90,264.63 475.17,260.39 471.52,256.10 467.94,251.75 464.42,247.35 460.98,242.88 457.63,238.36 454.35,233.77 451.16,229.11 448.04,224.39" fill="#98d468" opacity="1.0"/>
<line x1="446" y1="226" x2="480.8" y2="270.3" stroke="#22401a" stroke-width="1.4"/>
<g fill="#4a9e1a"><circle cx="448" cy="222.3" r="1.1"/><circle cx="450.4" cy="226.3" r="1.1"/><circle cx="451.5" cy="229.2" r="1.1"/><circle cx="449.4" cy="231.6" r="1.1"/><circle cx="450.6" cy="234" r="1.1"/><circle cx="451.5" cy="227" r="1.1"/><circle cx="451.8" cy="244.5" r="1.1"/><circle cx="463.9" cy="232.3" r="1.1"/><circle cx="461.2" cy="247.4" r="1.1"/><circle cx="463.7" cy="251.5" r="1.1"/><circle cx="465" cy="248.5" r="1.1"/><circle cx="461.6" cy="255.4" r="1.1"/><circle cx="465.7" cy="255.4" r="1.1"/><circle cx="466" cy="261.5" r="1.1"/><circle cx="477.1" cy="253.8" r="1.1"/><circle cx="480.8" cy="261.7" r="1.1"/><circle cx="478.9" cy="264.4" r="1.1"/><circle cx="479.5" cy="268" r="1.1"/><circle cx="479.7" cy="270.5" r="1.1"/><circle cx="481.6" cy="277.5" r="1.1"/><circle cx="477.5" cy="270.5" r="1.1"/></g>
<polygon points="491.10,226.96 495.37,230.18 499.50,233.54 503.48,237.03 507.33,240.65 511.04,244.40 514.64,248.26 518.16,252.20 521.60,256.21 524.95,260.30 528.23,264.47 532.57,260.33 528.57,256.86 524.64,253.31 520.80,249.68 517.04,245.98 513.36,242.20 509.79,238.31 506.36,234.29 503.06,230.14 499.91,225.86 496.90,221.44" fill="#7e9e58" opacity="1.0"/>
<line x1="494" y1="224.2" x2="530.4" y2="262.4" stroke="#20400c" stroke-width="1.4"/>
<g fill="#3a6a12"><circle cx="499.2" cy="223.5" r="1.1"/><circle cx="501.6" cy="222" r="1.1"/><circle cx="494.5" cy="226" r="1.1"/><circle cx="497.5" cy="229" r="1.1"/><circle cx="499.5" cy="229.5" r="1.1"/><circle cx="498.4" cy="234.5" r="1.1"/><circle cx="500.6" cy="241" r="1.1"/><circle cx="512.7" cy="219.7" r="1.1"/><circle cx="509" cy="245.6" r="1.1"/><circle cx="512" cy="242.5" r="1.1"/><circle cx="510.8" cy="251.6" r="1.1"/><circle cx="514.8" cy="250.2" r="1.1"/><circle cx="514.6" cy="260" r="1.1"/><circle cx="525.9" cy="253.6" r="1.1"/><circle cx="529.6" cy="259.4" r="1.1"/><circle cx="531" cy="262" r="1.1"/><circle cx="528.4" cy="262" r="1.1"/><circle cx="527.6" cy="269.6" r="1.1"/><circle cx="530" cy="269" r="1.1"/><circle cx="531.1" cy="271.6" r="1.1"/></g>
<path d="M591 40.2V113.3H677.4" stroke="#222" stroke-width="1.2" fill="none"/>
<text x="572.00" y="48.20" font-size="12.3" font-weight="normal" fill="#111" stroke="#111" stroke-width="0.2" textLength="17.20" lengthAdjust="spacingAndGlyphs">2.4</text>
<text x="572.00" y="114.90" font-size="12.3" font-weight="normal" fill="#111" stroke="#111" stroke-width="0.2" textLength="17.40" lengthAdjust="spacingAndGlyphs">1.9</text>
<text x="585.40" y="126.50" font-size="11.3" font-weight="normal" fill="#222" stroke="#222" stroke-width="0.2" textLength="21.20" lengthAdjust="spacingAndGlyphs">V1d</text>
<text x="659.00" y="126.50" font-size="11.3" font-weight="normal" fill="#222" stroke="#222" stroke-width="0.2" textLength="22.00" lengthAdjust="spacingAndGlyphs">IPS3</text>
<text x="601.40" y="143.50" font-size="14" font-weight="bold" fill="#111" stroke="#111" stroke-width="0.3" textLength="69.90" lengthAdjust="spacingAndGlyphs">Visual area</text>
<text transform="translate(567.3,79.9) rotate(-90)" text-anchor="middle" font-size="13.2" font-weight="bold" fill="#111" stroke="#111" stroke-width="0.3" textLength="79.8" lengthAdjust="spacingAndGlyphs">T<tspan font-size="9" dy="3.2">1</tspan><tspan dy="-3.2"> at birth [s]</tspan></text>
<path d="M597.6 86.2V95.39999999999999M596.3000000000001 86.2H598.9M596.3000000000001 95.39999999999999H598.9" stroke="#222222" stroke-width="1" fill="none"/><circle cx="597.6" cy="90.8" r="2.1" fill="#222222"/>
<path d="M607 71.2V80.39999999999999M605.7 71.2H608.3M605.7 80.39999999999999H608.3" stroke="#444444" stroke-width="1" fill="none"/><circle cx="607" cy="75.8" r="2.1" fill="#444444"/>
<path d="M616 61.699999999999996V70.89999999999999M614.7 61.699999999999996H617.3M614.7 70.89999999999999H617.3" stroke="#555555" stroke-width="1" fill="none"/><circle cx="616" cy="66.3" r="2.1" fill="#555555"/>
<path d="M625.6 62.1V71.3M624.3000000000001 62.1H626.9M624.3000000000001 71.3H626.9" stroke="#bbbbbb" stroke-width="1" fill="none"/><circle cx="625.6" cy="66.7" r="2.1" fill="#bbbbbb"/>
<path d="M634.6 55.199999999999996V64.39999999999999M633.3000000000001 55.199999999999996H635.9M633.3000000000001 64.39999999999999H635.9" stroke="#c8dff5" stroke-width="1" fill="none"/><circle cx="634.6" cy="59.8" r="2.1" fill="#c8dff5"/>
<path d="M644.2 54.5V63.7M642.9000000000001 54.5H645.5M642.9000000000001 63.7H645.5" stroke="#9cc3ee" stroke-width="1" fill="none"/><circle cx="644.2" cy="59.1" r="2.1" fill="#9cc3ee"/>
<path d="M653.5 46.1V55.300000000000004M652.2 46.1H654.8M652.2 55.300000000000004H654.8" stroke="#62a8f0" stroke-width="1" fill="none"/><circle cx="653.5" cy="50.7" r="2.1" fill="#62a8f0"/>
<path d="M662.6 50.199999999999996V59.4M661.3000000000001 50.199999999999996H663.9M661.3000000000001 59.4H663.9" stroke="#2e86e8" stroke-width="1" fill="none"/><circle cx="662.6" cy="54.8" r="2.1" fill="#2e86e8"/>
<path d="M672.1 46.6V55.800000000000004M670.8000000000001 46.6H673.4M670.8000000000001 55.800000000000004H673.4" stroke="#0a5cc8" stroke-width="1" fill="none"/><circle cx="672.1" cy="51.2" r="2.1" fill="#0a5cc8"/>
<path d="M595 209.2V281.8H681.2" stroke="#222" stroke-width="1.2" fill="none"/>
<text x="571.60" y="217.60" font-size="12.3" font-weight="normal" fill="#111" stroke="#111" stroke-width="0.2" textLength="17.40" lengthAdjust="spacingAndGlyphs">2.4</text>
<text x="571.80" y="283.20" font-size="12.3" font-weight="normal" fill="#111" stroke="#111" stroke-width="0.2" textLength="17.60" lengthAdjust="spacingAndGlyphs">1.9</text>
<text x="593.80" y="296.10" font-size="11.3" font-weight="normal" fill="#222" stroke="#222" stroke-width="0.2" textLength="19.20" lengthAdjust="spacingAndGlyphs">V1v</text>
<text x="657.40" y="296.10" font-size="11.3" font-weight="normal" fill="#222" stroke="#222" stroke-width="0.2" textLength="27.60" lengthAdjust="spacingAndGlyphs">PHC2</text>
<text x="602.00" y="313.00" font-size="14" font-weight="bold" fill="#111" stroke="#111" stroke-width="0.3" textLength="69.40" lengthAdjust="spacingAndGlyphs">Visual area</text>
<text transform="translate(566.0,242.9) rotate(-90)" text-anchor="middle" font-size="13.2" font-weight="bold" fill="#111" stroke="#111" stroke-width="0.3" textLength="79.8" lengthAdjust="spacingAndGlyphs">T<tspan font-size="9" dy="3.2">1</tspan><tspan dy="-3.2"> at birth [s]</tspan></text>
<path d="M601.6 260.4V269.6M600.3000000000001 260.4H602.9M600.3000000000001 269.6H602.9" stroke="#222222" stroke-width="1" fill="none"/><circle cx="601.6" cy="265" r="2.1" fill="#222222"/>
<path d="M612.2 249.8V259.0M610.9000000000001 249.8H613.5M610.9000000000001 259.0H613.5" stroke="#444444" stroke-width="1" fill="none"/><circle cx="612.2" cy="254.4" r="2.1" fill="#444444"/>
<path d="M622.2 239.8V249.0M620.9000000000001 239.8H623.5M620.9000000000001 249.0H623.5" stroke="#666666" stroke-width="1" fill="none"/><circle cx="622.2" cy="244.4" r="2.1" fill="#666666"/>
<path d="M632.9 239.20000000000002V248.4M631.6 239.20000000000002H634.1999999999999M631.6 248.4H634.1999999999999" stroke="#bbbbbb" stroke-width="1" fill="none"/><circle cx="632.9" cy="243.8" r="2.1" fill="#bbbbbb"/>
<path d="M643.2 229.20000000000002V238.4M641.9000000000001 229.20000000000002H644.5M641.9000000000001 238.4H644.5" stroke="#99ee33" stroke-width="1" fill="none"/><circle cx="643.2" cy="233.8" r="2.1" fill="#99ee33"/>
<path d="M653.2 227.5V236.7M651.9000000000001 227.5H654.5M651.9000000000001 236.7H654.5" stroke="#66cc11" stroke-width="1" fill="none"/><circle cx="653.2" cy="232.1" r="2.1" fill="#66cc11"/>
<path d="M663.8 232.1V241.29999999999998M662.5 232.1H665.0999999999999M662.5 241.29999999999998H665.0999999999999" stroke="#4a9e1a" stroke-width="1" fill="none"/><circle cx="663.8" cy="236.7" r="2.1" fill="#4a9e1a"/>
<path d="M674.4 229.20000000000002V238.4M673.1 229.20000000000002H675.6999999999999M673.1 238.4H675.6999999999999" stroke="#3d6e1a" stroke-width="1" fill="none"/><circle cx="674.4" cy="233.8" r="2.1" fill="#3d6e1a"/>
</svg>
</body></html>
